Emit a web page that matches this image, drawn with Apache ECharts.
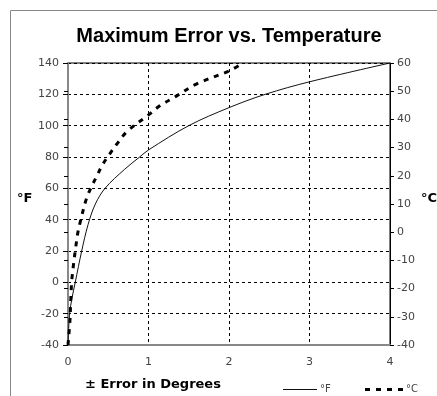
<!DOCTYPE html>
<html>
<head>
<meta charset="utf-8">
<script src="https://cdn.jsdelivr.net/npm/echarts@6/dist/echarts.min.js"></script>
<style>
  html, body { margin: 0; padding: 0; background: #fff; }
  #chart { width: 437px; height: 396px; }
</style>
</head>
<body>
<div id="chart"></div>
<script>
// ============ data ============
const errorF = [0, 0.02, 0.05, 0.09, 0.17, 0.25, 0.34, 0.46, 0.7, 0.89, 1.0, 1.5, 2.0, 2.45, 3.0, 4.0];
const tempF  = [-40, -20, -10, 0, 20, 37, 50, 60, 72, 80, 84.5, 100, 111.5, 120, 128, 140];

const errorC = [0, 0.025, 0.033, 0.046, 0.066, 0.1, 0.12, 0.15, 0.23, 0.29, 0.36, 0.43, 0.51, 0.6, 0.73, 1.0, 1.14, 1.33, 1.6, 2.01, 2.17];
const tempC  = [-40, -31, -25, -17.5, -12, -4.5, -0.5, 3.4, 12, 16, 20, 24, 27.4, 31, 35.6, 41.6, 44.8, 48, 52.6, 57.3, 60];

const xTicks = { min: 0, max: 4, step: 1 };
const fTicks = { min: -40, max: 140, step: 20 };
const cTicks = { min: -40, max: 60, step: 10 };

const pairs = (xs, ys) => xs.map((x, i) => [x, ys[i]]);

const FONT = '"DejaVu Sans", sans-serif';
const labelStyle = { fontFamily: FONT, fontSize: 11, color: '#444' };
const lineF = { color: '#111', width: 1 };
const lineC = { color: '#000', width: 3, dash: [5, 6] };

const chart = echarts.init(document.getElementById('chart'));

chart.setOption({
  animation: false,
  backgroundColor: '#fff',
  grid: {
    left: 68, right: 47, top: 63, bottom: 51,
    show: true, borderColor: '#000', borderWidth: 1
  },
  xAxis: {
    type: 'value',
    min: xTicks.min, max: xTicks.max, interval: xTicks.step,
    axisLine: { onZero: false, lineStyle: { color: '#888', width: 2 } },
    axisTick: { show: false },
    axisLabel: Object.assign({ margin: 12 }, labelStyle),
    splitLine: { lineStyle: { color: '#000', type: [3, 3], width: 1 } }
  },
  yAxis: [
    {
      type: 'value', position: 'left',
      min: fTicks.min, max: fTicks.max, interval: fTicks.step,
      axisLine: { show: true, onZero: false, lineStyle: { color: '#888', width: 2 } },
      axisTick: { show: true, length: 5, lineStyle: { color: '#000' } },
      axisLabel: Object.assign({ margin: 9 }, labelStyle),
      splitLine: { lineStyle: { color: '#000', type: [3, 3], width: 1 } }
    },
    {
      type: 'value', position: 'right',
      min: cTicks.min, max: cTicks.max, interval: cTicks.step,
      axisLine: { show: true, onZero: false, lineStyle: { color: '#000', width: 1 } },
      axisTick: { show: true, length: 4, lineStyle: { color: '#000' } },
      axisLabel: Object.assign({ margin: 7 }, labelStyle),
      splitLine: { show: false }
    },
    {
      // inner half of the crossing ticks on the °C axis
      type: 'value', position: 'right',
      min: cTicks.min, max: cTicks.max, interval: cTicks.step,
      axisLine: { show: false },
      axisTick: { show: true, inside: true, length: 4, lineStyle: { color: '#000' } },
      axisLabel: { show: false },
      splitLine: { show: false }
    }
  ],
  series: [
    {
      name: '°F', type: 'line', yAxisIndex: 0,
      data: pairs(errorF, tempF),
      symbol: 'none', smooth: 0.35,
      lineStyle: { color: lineF.color, width: lineF.width },
      z: 3
    },
    {
      name: '°C', type: 'line', yAxisIndex: 1,
      data: pairs(errorC, tempC),
      symbol: 'none', smooth: 0.35,
      lineStyle: { color: lineC.color, width: lineC.width, type: lineC.dash },
      z: 4
    }
  ],
  graphic: [
    {
      type: 'rect', silent: true,
      shape: { x: 10.5, y: 10.5, width: 440, height: 400 },
      style: { fill: null, stroke: '#888', lineWidth: 1 }
    },
    {
      type: 'text', x: 229, y: 36,
      style: {
        text: 'Maximum Error vs. Temperature',
        font: 'bold 20px "Liberation Sans", sans-serif',
        fill: '#000', textAlign: 'center', textVerticalAlign: 'middle'
      }
    },
    {
      type: 'text', x: 17, y: 199,
      style: { text: '°F', font: 'bold 13px ' + FONT, fill: '#000', textVerticalAlign: 'middle' }
    },
    {
      type: 'text', x: 421, y: 199,
      style: { text: '°C', font: 'bold 13px ' + FONT, fill: '#000', textVerticalAlign: 'middle' }
    },
    {
      type: 'text', x: 85, y: 385,
      style: { text: '± Error in Degrees', font: 'bold 13px ' + FONT, fill: '#000', textVerticalAlign: 'middle' }
    },
    // legend (hand drawn, same styles as the series)
    {
      type: 'line', silent: true,
      shape: { x1: 283, y1: 389.5, x2: 317, y2: 389.5 },
      style: { stroke: lineF.color, lineWidth: lineF.width }
    },
    {
      type: 'text', x: 320, y: 389,
      style: { text: '°F', font: '10px ' + FONT, fill: '#444', textVerticalAlign: 'middle' }
    },
    {
      type: 'line', silent: true,
      shape: { x1: 365, y1: 389.5, x2: 404, y2: 389.5 },
      style: { stroke: lineC.color, lineWidth: lineC.width, lineDash: lineC.dash }
    },
    {
      type: 'text', x: 406, y: 389,
      style: { text: '°C', font: '10px ' + FONT, fill: '#444', textVerticalAlign: 'middle' }
    }
  ]
});

window.addEventListener('resize', () => chart.resize());
</script>
</body>
</html>
